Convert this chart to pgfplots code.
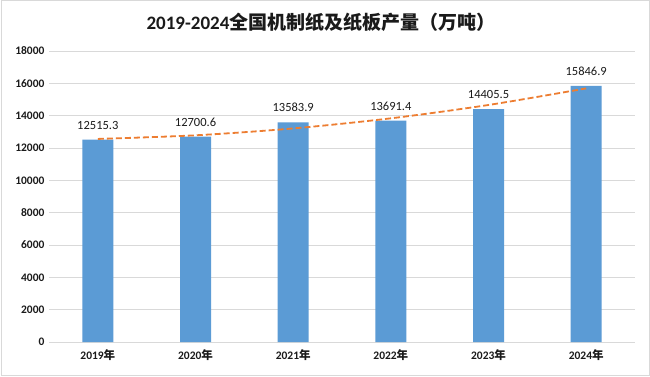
\documentclass[border=0pt]{standalone}
\usepackage{pgfplots}
\pgfplotsset{compat=1.18}
\usepackage{fontspec}
\setmainfont{Carlito}
\newfontfamily\cjk{Noto Sans CJK SC}
\definecolor{barblue}{HTML}{5B9BD5}
\definecolor{trend}{HTML}{ED7D31}
\definecolor{gridc}{HTML}{D9D9D9}
\definecolor{txt}{HTML}{1A1A1A}
\begin{document}
\begin{tikzpicture}[x=1pt,y=1pt]
\useasboundingbox (0,0) rectangle (650,376);
\fill[white] (0,0) rectangle (650,376);
\draw[gray!30,line width=1pt] (1,1) rectangle (649,375);
\node[font=\fontsize{19}{22}\selectfont\bfseries, text=txt] at (321,354) {2019-2024{\cjk 全国机制纸及纸板产量（万吨）}};
\begin{axis}[
  at={(49pt,34pt)}, anchor=south west,
  scale only axis, width=586pt, height=291pt,
  xmin=-0.5, xmax=5.5, ymin=0, ymax=18000,
  xtick={0,1,2,3,4,5},
  xticklabels={2019{\cjk 年},2020{\cjk 年},2021{\cjk 年},2022{\cjk 年},2023{\cjk 年},2024{\cjk 年}},
  ytick={0,2000,...,18000},
  scaled y ticks=false,
  /pgf/number format/assume math mode=true,
  yticklabel style={/pgf/number format/1000 sep={}, font=\fontsize{11.5}{13}\selectfont\bfseries, text=txt, xshift=-1pt},
  xticklabel style={font=\fontsize{11.5}{13}\selectfont\bfseries, text=txt, yshift=-4pt},
  ymajorgrids, grid style={gridc, line width=0.8pt},
  axis line style={draw=none},
  axis x line*=bottom, axis y line*=left,
  major tick length=0pt,
  tick style={draw=none},
  clip=false,
]
\draw[gridc, line width=0.8pt] (axis cs:-0.5,0) -- (axis cs:5.5,0);
\addplot[ybar, bar width=31pt, fill=barblue, draw=none,
  point meta=explicit symbolic,
  nodes near coords, nodes near coords style={font=\fontsize{12.5}{14}\selectfont, text=txt, yshift=7pt}]
  coordinates {(0,12515.3)[12515.3] (1,12700.6)[12700.6] (2,13583.9)[13583.9] (3,13691.4)[13691.4] (4,14405.5)[14405.5] (5,15846.9)[15846.9]};
\addplot[trend, line width=1.8pt, dash pattern=on 6pt off 3pt, smooth, no marks]
  coordinates {(0,12561.2) (1,12786.1) (2,13211.1) (3,13836.3) (4,14661.7) (5,15687.2)};
\end{axis}
\end{tikzpicture}
\end{document}
